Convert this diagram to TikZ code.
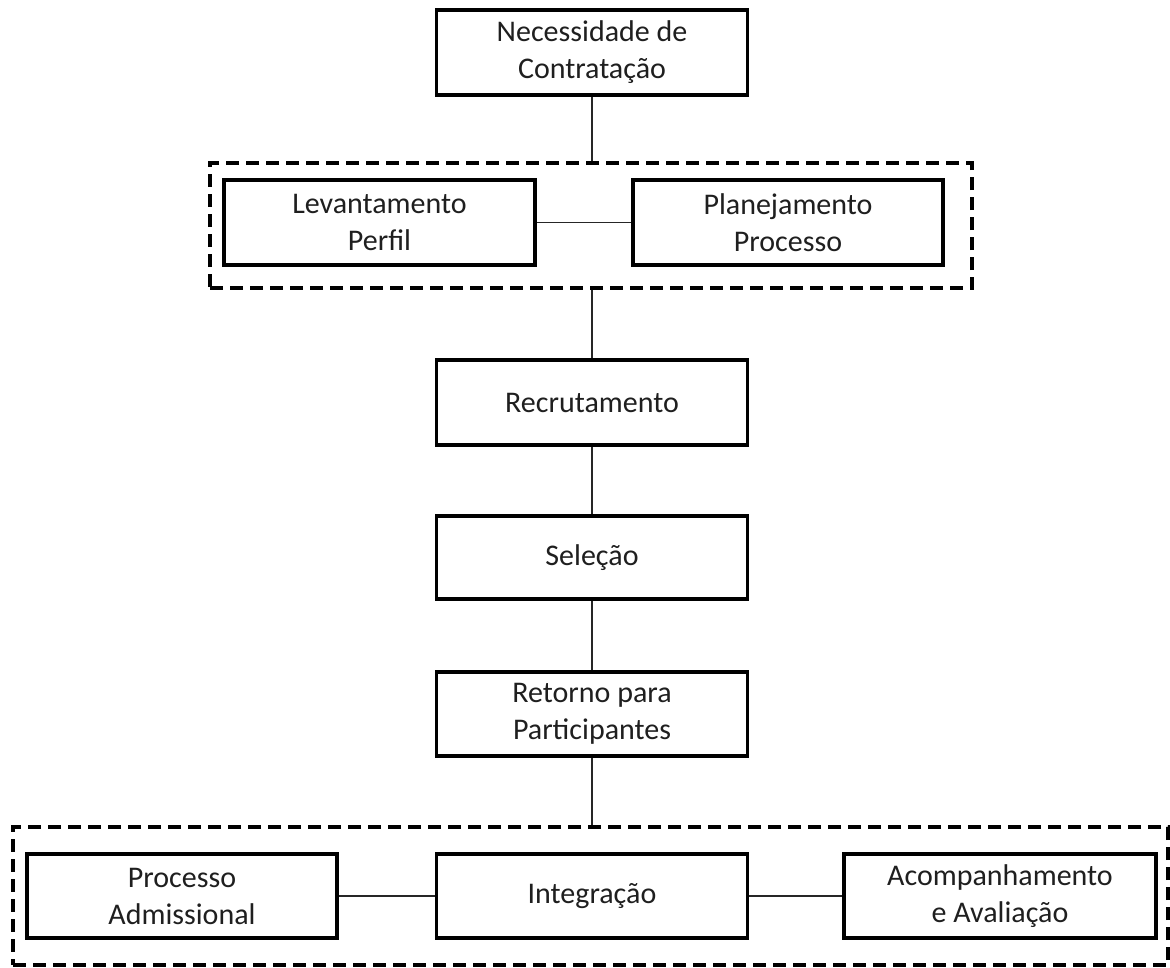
\documentclass[tikz,border=0pt]{standalone}
\usepackage{fontspec}
\setmainfont{Carlito}
\begin{document}
\begin{tikzpicture}[x=1pt,y=-1pt,
  box/.style={draw=black,line width=3.6pt,fill=white,minimum width=311pt,minimum height=85pt,
    align=center,inner sep=0pt,text=black!88,font=\fontsize{30}{37}\selectfont},
  group/.style={draw=black,line width=3.4pt,dash pattern=on 13pt off 7pt,inner sep=0pt},
  link/.style={draw=black!85,line width=1.6pt}]
\useasboundingbox (0,0) rectangle (1170,967);
\node[group,minimum width=762pt,minimum height=125pt] (g1) at (591,225.5) {};
\node[group,minimum width=1155pt,minimum height=138pt] (g2) at (590.5,896) {};
\node[box] (top) at (592,52.5) {Necessidade de\\Contratação};
\node[box] (lev) at (379.5,222.5) {Levantamento\\Perfil};
\node[box,minimum width=310pt] (plan) at (788,222.5) {Planejamento\\Processo};
\node[box] (rec) at (592,402.5) {Recrutamento};
\node[box,minimum height=83pt] (sel) at (592,557.5) {Seleção};
\node[box,minimum height=84pt] (ret) at (592,714) {Retorno para\\Participantes};
\node[box,minimum width=310pt,minimum height=84pt] (proc) at (182,896) {Processo\\Admissional};
\node[box,minimum height=84pt] (int) at (592,896) {Integração};
\node[box,minimum width=312pt,minimum height=84pt] (acomp) at (1000,896) {Acompanhamento\\e Avaliação};
\draw[link] (top.south) -- (top.south |- g1.north);
\draw[link] (rec.north |- g1.south) -- (rec.north);
\draw[link] (rec.south) -- (sel.north);
\draw[link] (sel.south) -- (ret.north);
\draw[link] (ret.south) -- (ret.south |- g2.north);
\draw[link] (lev.east) -- (plan.west);
\draw[link] (proc.east) -- (int.west);
\draw[link] (int.east) -- (acomp.west);
\end{tikzpicture}
\end{document}
